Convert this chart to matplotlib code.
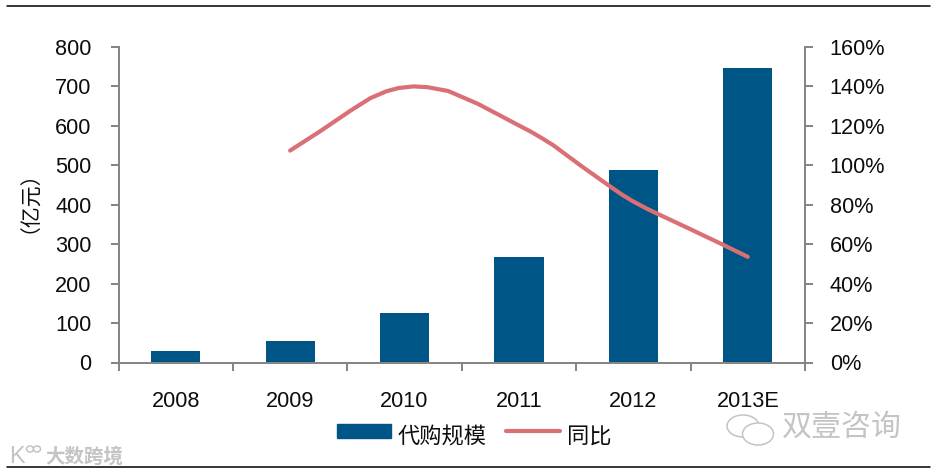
import matplotlib
matplotlib.use('Agg')
import matplotlib.pyplot as plt
from matplotlib.lines import Line2D
from matplotlib.patches import Patch, Ellipse
from matplotlib.ticker import FuncFormatter

plt.rcParams['font.family'] = ['Liberation Sans', 'Noto Sans CJK SC', 'DejaVu Sans']
plt.rcParams['lines.solid_capstyle'] = 'round'

years = ['2008', '2009', '2010', '2011', '2012', '2013E']
scale = [28, 54, 125, 267, 488, 746]
growth_x = [1.0, 1.26, 1.53, 1.70, 1.84, 1.95, 2.08, 2.20, 2.38, 2.64, 2.87, 3.00, 3.10, 3.20, 3.30, 3.54, 3.80, 3.90, 4.00, 4.12, 4.24, 4.48, 4.77, 5.0]
growth = [107.3, 117, 127.6, 133.8, 137.3, 139, 139.8, 139.4, 137.5, 131, 124, 120, 117, 113.6, 110, 99.7, 89, 85, 81.5, 77.8, 74.5, 68, 60, 53.5]
BLUE = '#005587'
RED = '#DA7075'
GREY = '#868686'
TXT = '#0d0d0d'
WM = '#c4c4c4'

W, H = 933, 474
fig = plt.figure(figsize=(W/100, H/100), dpi=100)
L, R, T, B = 118.5, 805, 46.5, 362.5
ax = fig.add_axes([L/W, 1-B/H, (R-L)/W, (B-T)/H])
ax.bar(range(6), scale, width=0.43, color=BLUE, zorder=2)
ax.set_xlim(-0.5, 5.5)
ax.set_ylim(0, 800)
ax.set_yticks(range(0, 801, 100))
ax.set_xticks([i-0.5 for i in range(7)])
ax.set_xticklabels([])
ax.set_xticks(range(6), years, minor=True)
ax.tick_params(axis='x', which='minor', length=0, labelsize=15.6, pad=20.5, labelcolor=TXT)
ax.tick_params(axis='x', which='major', length=5.8, width=1.44, direction='out', color=GREY)
ax.tick_params(axis='y', length=5.8, width=1.44, direction='out', color=GREY, labelsize=15.6, pad=13.5, labelcolor=TXT)
ax2 = ax.twinx()
ax2.plot(growth_x, growth, color=RED, lw=3, zorder=3)
ax2.set_ylim(0, 160)
ax2.set_yticks(range(0, 161, 20))
ax2.yaxis.set_major_formatter(FuncFormatter(lambda v, p: f'{int(v)}%'))
ax2.tick_params(axis='y', length=5.8, width=1.44, direction='out', color=GREY, labelsize=15.6, pad=12, labelcolor=TXT)
for a in (ax, ax2):
    a.spines['top'].set_visible(False)
    for s in ('left', 'right', 'bottom'):
        a.spines[s].set_color(GREY)
        a.spines[s].set_linewidth(1.44)
fig.text(19/W, 1-191/H, '（亿元）', fontsize=15, rotation=90, color=TXT, ha='center', va='center')
fig.add_artist(Line2D([7/W, 930/W], [1-6/H, 1-6/H], color='black', lw=1.1))
fig.add_artist(Line2D([7/W, 930/W], [1-467/H, 1-467/H], color='black', lw=1.1))
handles = [Patch(color=BLUE, label='代购规模'), Line2D([], [], color=RED, lw=3, label='同比')]
leg = fig.legend(handles=handles, loc='center', bbox_to_anchor=(474/W, 1-433/H), ncol=2, frameon=False,
                 fontsize=16, labelcolor=TXT, handlelength=2.45, handleheight=0.59,
                 columnspacing=0.86, handletextpad=0.3, borderpad=0)
for t in leg.get_texts():
    t.set_y(-5)

# watermarks
fig.text(782/W, 1-428/H, '双壹咨询', fontsize=21.6, color=WM, va='center')
fig.text(45/W, 1-457/H, '大数跨境', fontsize=14, color=WM, va='center', fontweight='bold')
fig.text(9/W, 1-457/H, 'K', fontsize=17, color=WM, va='center')
for cx, cy, w, h in [(743, 426, 32, 22), (758, 434, 31, 22), (30, 449, 7, 6), (37, 449, 7, 6)]:
    fig.add_artist(Ellipse((cx/W, 1-cy/H), w/W, h/H, transform=fig.transFigure,
                           fill=True, facecolor='white', edgecolor=WM, lw=1.1))
fig.savefig('out.png', dpi=100)
